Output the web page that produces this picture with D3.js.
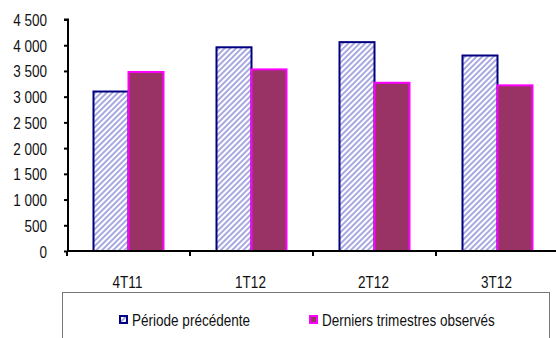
<!DOCTYPE html>
<html>
<head>
<meta charset="utf-8">
<script src="https://cdn.jsdelivr.net/npm/d3@7"></script>
<style>
  html, body { margin: 0; padding: 0; background: #fff; }
  svg { display: block; }
  text { font-family: "Liberation Sans", Arial, sans-serif; font-size: 16.5px; fill: #111; }
</style>
</head>
<body>
<script>
// Quarterly figures
const categories = ["4T11", "1T12", "2T12", "3T12"];
const seriesNames = ["Période précédente", "Derniers trimestres observés"];
const previousPeriod = [3100, 3960, 4060, 3800];
const lastQuarters = [3480, 3530, 3270, 3220];
const yTicks = [0, 500, 1000, 1500, 2000, 2500, 3000, 3500, 4000, 4500];

const W = 556, H = 338;
const SX = 0.82; // horizontal squeeze for the narrow label face
const svg = d3.select("body").append("svg").attr("width", W).attr("height", H);

// Hatched fill for the first series
const defs = svg.append("defs");
const pat = defs.append("pattern")
  .attr("id", "hatch")
  .attr("patternUnits", "userSpaceOnUse")
  .attr("width", 4).attr("height", 4)
  .attr("patternTransform", "rotate(45)");
pat.append("rect").attr("width", 4).attr("height", 4).attr("fill", "#ffffff");
pat.append("rect").attr("width", 2).attr("height", 4).attr("fill", "#a8a8e2");

const x0 = 67, x1 = 559, yTop = 19.5, yBot = 251;
const x = d3.scaleBand().domain(categories).range([x0, x1]).paddingInner(0).paddingOuter(0);
const y = d3.scaleLinear().domain([0, 4500]).range([yBot, yTop]);
const barW = 35;

const rows = categories.map((c, i) => ({ c, a: previousPeriod[i], b: lastQuarters[i] }));

// Narrow text helper
function label(sel, tx, ty, str, anchor) {
  return sel.append("text")
    .attr("transform", `translate(${tx},${ty}) scale(${SX},1)`)
    .attr("text-anchor", anchor || "start")
    .text(str);
}

// Bars
const g = svg.append("g");
g.selectAll("rect.prev").data(rows).enter().append("rect")
  .attr("class", "prev")
  .attr("x", d => x(d.c) + x.bandwidth() / 2 - barW)
  .attr("y", d => y(d.a))
  .attr("width", barW)
  .attr("height", d => y(0) - y(d.a))
  .attr("fill", "url(#hatch)")
  .attr("stroke", "#000080")
  .attr("stroke-width", 2);

g.selectAll("rect.last").data(rows).enter().append("rect")
  .attr("class", "last")
  .attr("x", d => x(d.c) + x.bandwidth() / 2)
  .attr("y", d => y(d.b))
  .attr("width", barW)
  .attr("height", d => y(0) - y(d.b))
  .attr("fill", "#993366")
  .attr("stroke", "#ff00ff")
  .attr("stroke-width", 2);

// Y axis
const yAxis = d3.axisLeft(y).tickValues(yTicks).tickSize(4).tickPadding(0)
  .tickFormat(d => d3.format(",")(d).replace(",", " "));
const ya = svg.append("g").attr("transform", `translate(${x0 + 1},0)`).call(yAxis);
ya.select(".domain").attr("stroke", "#000").attr("stroke-width", 2).attr("d", `M-4,${yTop}H0V${yBot}`);
ya.selectAll(".tick line").attr("stroke", "#000").attr("stroke-width", 2);
ya.selectAll(".tick text")
  .attr("x", null).attr("dy", null)
  .attr("transform", `translate(-21,6) scale(${SX},1)`)
  .attr("font-size", null).attr("font-family", null)
  .style("font-size", "16.5px").style("fill", "#111");

// X axis with ticks at category boundaries
const xa = svg.append("g").attr("transform", `translate(0,${yBot})`);
xa.append("line").attr("x1", x0).attr("x2", W).attr("y1", 0).attr("y2", 0)
  .attr("stroke", "#000").attr("stroke-width", 2);
xa.selectAll("line.tk").data(categories).enter().append("line")
  .attr("class", "tk")
  .attr("x1", d => x(d)).attr("x2", d => x(d))
  .attr("y1", 0).attr("y2", 5)
  .attr("stroke", "#000").attr("stroke-width", 2);
categories.forEach(c => label(xa, x(c) + x.bandwidth() / 2 - 1, 36.5, c, "middle"));

// Legend
const lg = svg.append("g");
lg.append("rect").attr("x", 62.5).attr("y", 292.5).attr("width", 487).attr("height", 60)
  .attr("fill", "none").attr("stroke", "#777").attr("stroke-width", 1);
const legendItems = [
  { name: seriesNames[0], x: 119, fill: "url(#hatch)", stroke: "#000080" },
  { name: seriesNames[1], x: 309, fill: "#993366", stroke: "#ff00ff" }
];
legendItems.forEach(it => {
  lg.append("rect").attr("x", it.x + 1).attr("y", 316).attr("width", 7).attr("height", 7)
    .attr("fill", it.fill).attr("stroke", it.stroke).attr("stroke-width", 2);
  label(lg, it.x + 13, 326, it.name);
});
</script>
</body>
</html>
